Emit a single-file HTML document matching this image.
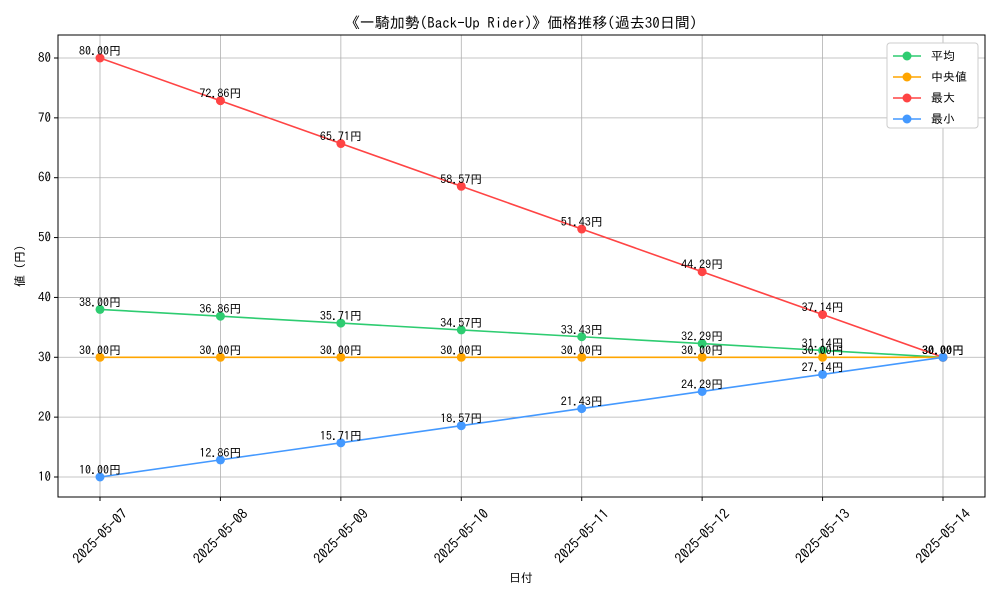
<!DOCTYPE html>
<html><head><meta charset="utf-8"><style>
body{margin:0;background:#fff}
svg text{font-family:"IPAGothic","Liberation Sans","Noto Sans CJK JP",sans-serif}
</style></head><body>
<svg id="c" width="1000" height="600" viewBox="0 0 1000 600" xmlns="http://www.w3.org/2000/svg">
<rect width="1000" height="600" fill="#fff"/>
<text x="521" y="28" font-size="15" text-anchor="middle">《一騎加勢(Back-Up Rider)》価格推移(過去30日間)</text>
<g id="grid"></g>
<rect x="58" y="35" width="927" height="462" fill="none" stroke="#000" stroke-width="1"/>
<g id="axes"></g>
<g id="series"></g>
<text x="521" y="582" font-size="12" text-anchor="middle">日付</text>
<text transform="translate(24,266) rotate(-90)" font-size="12" text-anchor="middle">値 (円)</text>
<g id="legend"></g>
</svg>
<script>
const categories=["2025-05-07","2025-05-08","2025-05-09","2025-05-10","2025-05-11","2025-05-12","2025-05-13","2025-05-14"];
const avgValues=[38.00,36.86,35.71,34.57,33.43,32.29,31.14,30.00];
const medianValues=[30.00,30.00,30.00,30.00,30.00,30.00,30.00,30.00];
const maxValues=[80.00,72.86,65.71,58.57,51.43,44.29,37.14,30.00];
const minValues=[10.00,12.86,15.71,18.57,21.43,24.29,27.14,30.00];
const yTicks=[10,20,30,40,50,60,70,80];
const seriesNames=["平均","中央値","最大","最小"];
const seriesColors=["#2ecc71","#ffa500","#ff4444","#4499ff"];
const NS="http://www.w3.org/2000/svg";
const X0=100,X1=943;
function xs(i){return X0+(X1-X0)*i/(categories.length-1);}
function ys(v){return 477-(v-10)*(419/70);}
function mk(t,a,p,txt){const e=document.createElementNS(NS,t);for(const k in a)e.setAttribute(k,a[k]);if(txt!==undefined)e.textContent=txt;p.appendChild(e);return e;}
const grid=document.getElementById('grid'),axes=document.getElementById('axes'),ser=document.getElementById('series'),leg=document.getElementById('legend');
yTicks.forEach(v=>{const y=ys(v);
const g=mk('line',{x1:58,x2:985,y1:y,y2:y,stroke:'#b0b0b0','stroke-width':0.8},grid);

mk('line',{x1:54,x2:58,y1:y,y2:y,stroke:'#000'},axes);
const t=mk('text',{x:51,y:y+4,'font-size':13,'text-anchor':'end'},axes,String(v));
});
categories.forEach((c,i)=>{const x=xs(i);
const g=mk('line',{x1:x,x2:x,y1:35,y2:497,stroke:'#b0b0b0','stroke-width':0.8},grid);

mk('line',{x1:x,x2:x,y1:497,y2:501,stroke:'#000'},axes);
const t=mk('text',{transform:`translate(${x},${536}) rotate(-45)`,'font-size':14,'text-anchor':'middle','dominant-baseline':'central'},axes,c);
});
const all=[avgValues,medianValues,maxValues,minValues];
all.forEach((vals,s)=>{const col=seriesColors[s];
const g=mk('g',{},ser);
const pl=mk('polyline',{points:vals.map((v,i)=>xs(i)+','+ys(v)).join(' '),fill:'none',stroke:col,'stroke-width':1.6},g);

vals.forEach((v,i)=>{const c=mk('circle',{cx:xs(i),cy:ys(v),r:4.5,fill:col},g);

const t=mk('text',{x:xs(i),y:ys(v)-3,'font-size':12,'text-anchor':'middle'},g,v.toFixed(2)+'円');
});});
const lb=mk('rect',{x:887,y:43,width:91,height:85,fill:'#fff',stroke:'#ccc',rx:3},leg);

seriesNames.forEach((n,s)=>{const y=56+s*21;const g=mk('g',{},leg);

mk('line',{x1:893,x2:921,y1:y,y2:y,stroke:seriesColors[s],'stroke-width':1.6},g);
mk('circle',{cx:907,cy:y,r:4.5,fill:seriesColors[s]},g);
mk('text',{x:931,y:y+4,'font-size':12},g,s===1?' '+n:n);});
</script>
</body></html>
